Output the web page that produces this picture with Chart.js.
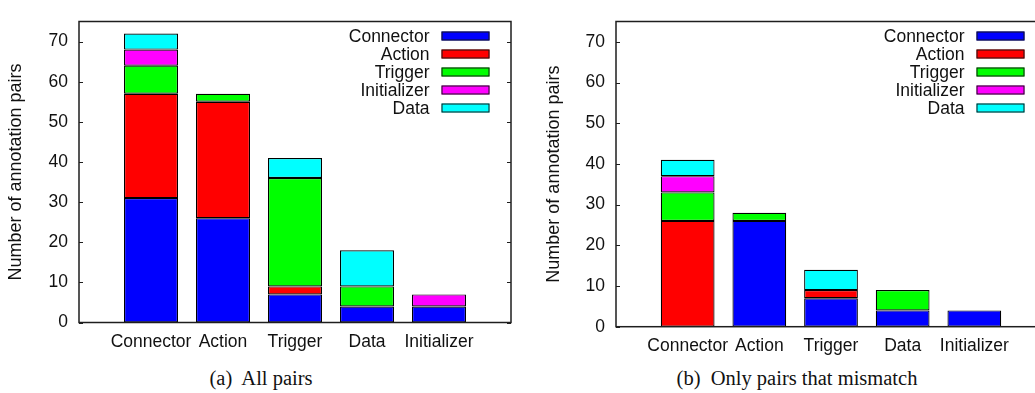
<!DOCTYPE html>
<html>
<head>
<meta charset="utf-8">
<script src="https://cdn.jsdelivr.net/npm/chart.js@4/dist/chart.umd.min.js"></script>
<style>
  html, body { margin: 0; padding: 0; background: #fff; overflow: hidden; width: 1035px; height: 393px; }
  canvas { position: absolute; top: 0; }
  #chartA { left: 0; }
  #chartB { left: 530px; }
  .caption {
    position: absolute; top: 367px; width: 400px; text-align: center;
    font-family: "Liberation Serif", "Times New Roman", serif; font-size: 20.5px; color: #111;
    white-space: pre;
  }
</style>
</head>
<body>
<canvas id="chartA" width="525" height="360"></canvas>
<canvas id="chartB" width="530" height="360"></canvas>
<div class="caption" style="left:61px">(a)  All pairs</div>
<div class="caption" style="left:597px">(b)  Only pairs that mismatch</div>
<script>
// Annotation categories on the x axis
const categories = ['Connector', 'Action', 'Trigger', 'Data', 'Initializer'];
// Stacked series (bottom to top)
const seriesNames = ['Connector', 'Action', 'Trigger', 'Initializer', 'Data'];
const seriesColors = ['#0000ff', '#ff0000', '#00ff00', '#ff00ff', '#00ffff'];

// (a) All pairs
const allConnector   = [31, 26, 7, 4, 4];
const allAction      = [26, 29, 2, 0, 0];
const allTrigger     = [7, 2, 27, 5, 0];
const allInitializer = [4, 0, 0, 0, 3];
const allData        = [4, 0, 5, 9, 0];

// (b) Only pairs that mismatch
const misConnector   = [0, 26, 7, 4, 4];
const misAction      = [26, 0, 2, 0, 0];
const misTrigger     = [7, 2, 0, 5, 0];
const misInitializer = [4, 0, 0, 0, 0];
const misData        = [4, 0, 5, 0, 0];

const yTicks = [0, 10, 20, 30, 40, 50, 60, 70];
const yMax = 75;

const SANS = "'Liberation Sans', Arial, Helvetica, sans-serif";

// one empty slot on each side of the categories, so bars sit at 1..5 on a 0..6 axis
const paddedLabels = ['', ...categories, ''];
const pad = arr => [null, ...arr.map(v => (v === 0 ? null : v)), null];

function buildDatasets(series) {
  return series.map((vals, i) => ({
    label: seriesNames[i],
    data: pad(vals),
    backgroundColor: seriesColors[i],
    borderColor: '#000000',
    borderWidth: 1.2,
    borderSkipped: false,
    categoryPercentage: 0.75,
    barPercentage: 1.0
  }));
}

// plot frame with inward tick marks on the left and right edges
const framePlugin = {
  id: 'frame',
  afterDatasetsDraw(chart) {
    const { ctx, chartArea: a, scales: { y } } = chart;
    ctx.save();
    ctx.strokeStyle = '#1e1e1e';
    ctx.lineWidth = 1.5;
    ctx.strokeRect(a.left, a.top, a.right - a.left, a.bottom - a.top);
    ctx.lineWidth = 1.2;
    ctx.beginPath();
    yTicks.forEach(v => {
      const py = Math.round(y.getPixelForValue(v)) + 0.5;
      ctx.moveTo(a.left, py); ctx.lineTo(a.left + 4, py);
      ctx.moveTo(a.right - 4, py); ctx.lineTo(a.right, py);
    });
    ctx.stroke();
    ctx.restore();
  }
};

// key in the upper right: right-aligned text followed by a colour swatch
const keyPlugin = {
  id: 'key',
  afterDraw(chart) {
    const { ctx, chartArea: a } = chart;
    ctx.save();
    ctx.font = '17.5px ' + SANS;
    ctx.textAlign = 'right';
    ctx.textBaseline = 'middle';
    chart.data.datasets.forEach((ds, i) => {
      const cy = a.top + 14.5 + i * 18;
      const sw = 48, sh = 9;
      const sx = a.right - 21.5 - sw;
      ctx.fillStyle = ds.backgroundColor;
      ctx.fillRect(sx, cy - sh / 2, sw, sh);
      ctx.strokeStyle = '#141414';
      ctx.lineWidth = 1;
      ctx.strokeRect(sx + 0.5, cy - sh / 2 + 0.5, sw - 1, sh - 1);
      ctx.fillStyle = '#111';
      ctx.fillText(ds.label, sx - 12, cy + 1);
    });
    ctx.restore();
  }
};

function makeChart(id, series, pads, xHeight, titlePad) {
  return new Chart(document.getElementById(id), {
    type: 'bar',
    data: { labels: paddedLabels, datasets: buildDatasets(series) },
    plugins: [framePlugin, keyPlugin],
    options: {
      responsive: false,
      animation: false,
      devicePixelRatio: 1,
      layout: { padding: pads },
      plugins: { legend: { display: false }, tooltip: { enabled: false } },
      scales: {
        x: {
          type: 'category',
          stacked: true,
          offset: false,
          grid: { display: false, drawTicks: false, offset: false },
          border: { display: false },
          ticks: {
            autoSkip: false, maxRotation: 0, minRotation: 0, padding: 9,
            color: '#111', font: { family: SANS, size: 17.5 }
          },
          afterFit: s => { s.height = xHeight; }
        },
        y: {
          stacked: true,
          min: 0,
          max: yMax,
          grid: { display: false, drawTicks: false },
          border: { display: false },
          afterBuildTicks: s => { s.ticks = yTicks.map(v => ({ value: v })); },
          ticks: { padding: 11, color: '#111', font: { family: SANS, size: 17.5 } },
          title: {
            display: true,
            text: 'Number of annotation pairs',
            color: '#111',
            font: { family: SANS, size: 18 },
            padding: { top: titlePad, bottom: 0 }
          },
          afterFit: s => { s.width = 79; }
        }
      }
    }
  });
}

makeChart('chartA',
  [allConnector, allAction, allTrigger, allInitializer, allData],
  { top: 1, left: 0, right: 14, bottom: 0 }, 37.5, 5);

makeChart('chartB',
  [misConnector, misAction, misTrigger, misInitializer, misData],
  { top: 6, left: 7, right: 14, bottom: 0 }, 33.3, 6.5);
</script>
</body>
</html>
